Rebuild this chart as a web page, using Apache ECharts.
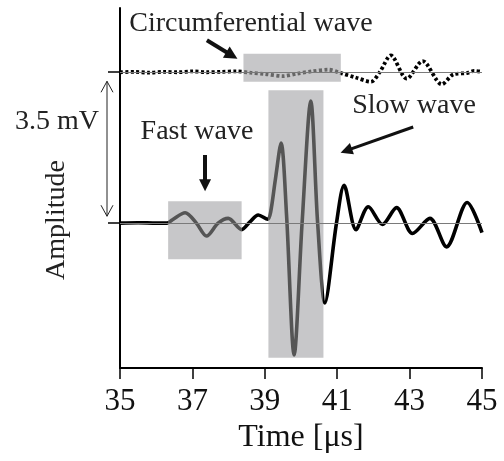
<!DOCTYPE html>
<html><head><meta charset="utf-8">
<script src="https://cdn.jsdelivr.net/npm/echarts@6/dist/echarts.min.js"></script>
<style>html,body{margin:0;padding:0;background:#fff}#c{width:504px;height:461px}</style>
</head><body><div id="c"></div>
<script>
// ---- data ----
const tickValues = [35, 37, 39, 41, 43, 45];
const baselineTicks = [0, 3.5];
// lower trace (fast + slow wave), amplitude in mV
const lowerTime = [35.00,35.50,36.00,36.30,36.45,36.80,37.11,37.39,37.71,37.99,38.36,38.59,38.82,39.08,39.16,39.29,39.45,39.60,39.81,40.03,40.27,40.46,40.66,40.98,41.19,41.52,41.86,42.25,42.64,43.08,43.56,44.02,44.59,45.00];
const lowerAmp  = [0,0.01,0,0,0.08,0.24,0,-0.30,0,0.11,-0.15,0.03,0.19,0.09,0.25,1.00,1.86,0.20,-3.06,0,2.83,0,-1.85,0,0.88,-0.15,0.38,-0.03,0.36,-0.24,0.11,-0.55,0.48,-0.22];
// upper trace (circumferential wave), deviation from its own baseline in mV
const upperTime = [35.00,35.40,35.80,36.20,36.60,37.00,37.40,37.80,38.20,38.60,39.00,39.50,39.90,40.30,40.75,41.10,41.50,41.93,42.18,42.48,42.92,43.36,43.89,44.21,44.58,44.78,45.00];
const upperAmp  = [0,0.01,-0.01,0.01,0,0.02,0,0.01,0.02,-0.01,-0.04,-0.09,-0.03,0.02,0.06,-0.02,-0.12,-0.22,0.01,0.39,-0.15,0.26,-0.28,-0.05,-0.02,0.03,0.01];
const upperOffset = 3.5; // 3.5 mV separation between the two traces
// highlighted windows [tStart, tEnd, vLow, vHigh]
const fastBox = [36.33, 38.36, -0.84, 0.51];
const slowBox = [39.10, 40.62, -3.12, 3.08];
const circBox = [38.41, 41.10, 3.28, 3.93];
// annotation arrows [t0, v0, t1, v1]
const circArrow = [37.40, 4.24, 38.09, 3.89];
const fastArrow = [37.35, 1.58, 37.35, 0.88];
const slowArrow = [43.10, 2.23, 41.25, 1.68];

const lowerData = lowerTime.map((t, i) => [t, lowerAmp[i]]);
const upperData = upperTime.map((t, i) => [t, upperAmp[i] + upperOffset]);

const font = '"Liberation Serif", "Times New Roman", serif';
const chart = echarts.init(document.getElementById('c'), null, {renderer: 'canvas'});

function box(b) { return [{xAxis: b[0], yAxis: b[2]}, {xAxis: b[1], yAxis: b[3]}]; }
function arrow(a, w, s) {
  return [{coord: [a[0], a[1]], lineStyle: {width: w, color: '#111', type: 'solid'}, symbolSize: s},
          {coord: [a[2], a[3]], symbolSize: s}];
}

chart.setOption({
  animation: false,
  grid: {left: 120, right: 22, top: 8, bottom: 93},
  xAxis: {
    type: 'value', min: 35, max: 45,
    axisLine: {onZero: false, lineStyle: {color: '#000', width: 2}},
    axisTick: {customValues: tickValues, length: 11, lineStyle: {color: '#000', width: 1.5}},
    axisLabel: {customValues: tickValues, fontSize: 31, fontFamily: font, color: '#111', margin: 18},
    splitLine: {show: false},
    name: 'Time [μs]', nameLocation: 'middle', nameGap: 50,
    nameTextStyle: {fontSize: 32, fontFamily: font, color: '#111'}
  },
  yAxis: {
    type: 'value', min: -3.36, max: 4.99,
    axisLine: {show: true, onZero: false, lineStyle: {color: '#000', width: 2}},
    axisTick: {show: true, customValues: baselineTicks, length: 12, lineStyle: {color: '#000', width: 1.5}},
    axisLabel: {show: false},
    splitLine: {show: false}
  },
  visualMap: [
    {type: 'piecewise', show: false, dimension: 0, seriesIndex: 2,
     pieces: [{lt: fastBox[0], color: '#000'}, {gte: fastBox[0], lt: fastBox[1], color: '#555'},
              {gte: fastBox[1], lt: slowBox[0], color: '#000'}, {gte: slowBox[0], lt: slowBox[1], color: '#555'},
              {gte: slowBox[1], color: '#000'}]},
    {type: 'piecewise', show: false, dimension: 0, seriesIndex: 3,
     pieces: [{lt: circBox[0], color: '#000'}, {gte: circBox[0], lt: circBox[1], color: '#666'},
              {gte: circBox[1], color: '#000'}]}
  ],
  series: [
    {type: 'line', data: [], z: 1, silent: true,
     markArea: {silent: true, itemStyle: {color: '#c7c7c9'}, data: [box(fastBox), box(slowBox), box(circBox)]}},
    {type: 'line', data: [], z: 2, silent: true,
     markLine: {silent: true, symbol: 'none', label: {show: false},
       lineStyle: {color: '#7a7a7a', width: 1, type: 'solid'},
       data: baselineTicks.map(v => ({yAxis: v}))}},
    {type: 'line', data: lowerData, smooth: 0.3, symbol: 'none', z: 4,
     lineStyle: {width: 3.6}},
    {type: 'line', data: upperData, smooth: 0.3, symbol: 'none', z: 3,
     lineStyle: {width: 3.8, type: [3, 2.4]}},
    {type: 'line', data: [], z: 5, silent: true,
     markLine: {silent: true, symbol: ['none', 'triangle'], label: {show: false},
       data: [arrow(circArrow, 4, 13), arrow(fastArrow, 4, 12), arrow(slowArrow, 3, 12)]}}
  ]
});

// decorations: scale double arrow and labels
const yTop = chart.convertToPixel({yAxisIndex: 0}, 3.29);
const yBot = chart.convertToPixel({yAxisIndex: 0}, 0.16);
const ax = 107;
const txt = (text, x, y, size, rot) => ({type: 'text', x: x, y: y, rotation: rot || 0, z: 10,
  style: {text: text, fill: '#222', font: size + 'px ' + font, align: 'center', verticalAlign: 'middle'}});
chart.setOption({
  graphic: [
    {type: 'line', z: 10, shape: {x1: ax, y1: yTop, x2: ax, y2: yBot}, style: {stroke: '#222', lineWidth: 1}},
    {type: 'polyline', z: 10, shape: {points: [[ax - 6, yTop + 11], [ax, yTop], [ax + 6, yTop + 11]]}, style: {stroke: '#222', lineWidth: 1, fill: null}},
    {type: 'polyline', z: 10, shape: {points: [[ax - 6, yBot - 11], [ax, yBot], [ax + 6, yBot - 11]]}, style: {stroke: '#222', lineWidth: 1, fill: null}},
    txt('Circumferential wave', 251, 24, 28),
    txt('Fast wave', 197, 132, 28),
    txt('Slow wave', 414, 106, 28),
    txt('3.5 mV', 57, 122, 28),
    txt('Amplitude', 57, 220, 28, Math.PI / 2)
  ]
});
</script>
</body></html>
